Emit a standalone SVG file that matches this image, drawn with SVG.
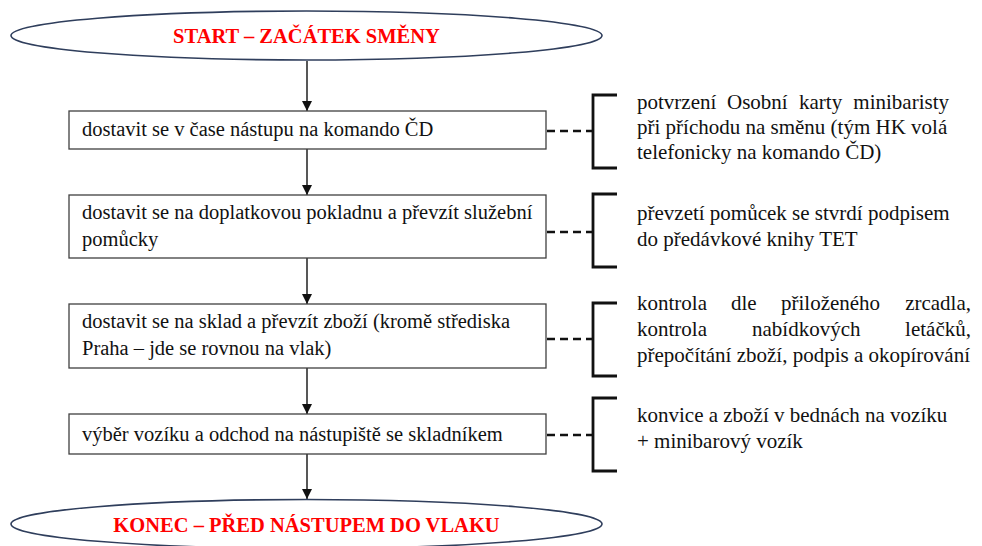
<svg xmlns="http://www.w3.org/2000/svg" width="982" height="546" viewBox="0 0 982 546">
  <style>
    .term { fill: #ffffff; stroke: #2f3e5c; stroke-width: 1.6; }
    .term-text { font-family: "Liberation Serif", "Times New Roman", Tinos, serif; font-size: 20.5px; font-weight: bold; fill: #ff0000; text-anchor: middle; }
    .step { fill: #ffffff; stroke: #404040; stroke-width: 1.3; }
    .step-text { font-family: "Liberation Serif", "Times New Roman", Tinos, serif; font-size: 20.5px; fill: #111111; }
    .note-text { font-family: "Liberation Serif", "Times New Roman", Tinos, serif; font-size: 21px; fill: #111111; }
    .end { text-anchor: end; }
    .flow { stroke: #111111; stroke-width: 1.4; fill: none; marker-end: url(#arrow); }
    .dash { stroke: #111111; stroke-width: 2.6; stroke-dasharray: 8 5; fill: none; }
    .bracket { stroke: #111111; stroke-width: 2.8; fill: none; }
  </style>
  <defs>
    <marker id="arrow" viewBox="0 0 10 10" refX="10" refY="5" markerWidth="10" markerHeight="10" markerUnits="userSpaceOnUse" orient="auto">
      <path d="M0,0 L10,5 L0,10 Z" fill="#111111"/>
    </marker>
  </defs>

  <!-- connectors -->
  <g id="connectors">
    <line class="flow" x1="307" y1="61" x2="307" y2="111"/>
    <line class="flow" x1="307" y1="149" x2="307" y2="195"/>
    <line class="flow" x1="307" y1="258" x2="307" y2="304"/>
    <line class="flow" x1="307" y1="368" x2="307" y2="414"/>
    <line class="flow" x1="307" y1="454" x2="307" y2="499"/>
    <line class="dash" x1="547" y1="131" x2="593" y2="131"/>
    <line class="dash" x1="547" y1="232" x2="593" y2="232"/>
    <line class="dash" x1="547" y1="339" x2="593" y2="339"/>
    <line class="dash" x1="547" y1="435" x2="593" y2="435"/>
  </g>

  <!-- start terminal -->
  <g id="start">
    <ellipse class="term" cx="306.5" cy="35.5" rx="295.5" ry="24.5"/>
    <text class="term-text" x="306.5" y="43">START – ZAČÁTEK SMĚNY</text>
  </g>

  <!-- process steps -->
  <g id="step1">
    <rect class="step" x="69" y="111" width="477" height="38"/>
    <text class="step-text" x="82" y="136">dostavit se v čase nástupu na komando ČD</text>
  </g>
  <g id="step2">
    <rect class="step" x="69" y="195" width="477" height="63"/>
    <text class="step-text" x="82" y="219">dostavit se na doplatkovou pokladnu a převzít služební</text>
    <text class="step-text" x="82" y="246">pomůcky</text>
  </g>
  <g id="step3">
    <rect class="step" x="69" y="304" width="477" height="64"/>
    <text class="step-text" x="82" y="328">dostavit se na sklad a převzít zboží (kromě střediska</text>
    <text class="step-text" x="82" y="355">Praha – jde se rovnou na vlak)</text>
  </g>
  <g id="step4">
    <rect class="step" x="69" y="414" width="477" height="40"/>
    <text class="step-text" x="82" y="441">výběr vozíku a odchod na nástupiště se skladníkem</text>
  </g>

  <!-- notes with brackets (justified lines are set word by word) -->
  <g id="note1">
    <path class="bracket" d="M617,95 H593 V168 H617"/>
    <text class="note-text" y="109"><tspan x="637">potvrzení</tspan><tspan x="727">Osobní</tspan><tspan x="799">karty</tspan></text>
    <text class="note-text end" x="949" y="109">minibaristy</text>
    <text class="note-text" x="637" y="134">při příchodu na směnu (tým HK volá</text>
    <text class="note-text" x="637" y="159">telefonicky na komando ČD)</text>
  </g>
  <g id="note2">
    <path class="bracket" d="M617,194 H593 V267 H617"/>
    <text class="note-text" x="637" y="220">převzetí pomůcek se stvrdí podpisem</text>
    <text class="note-text" x="637" y="246">do předávkové knihy TET</text>
  </g>
  <g id="note3">
    <path class="bracket" d="M617,303 H593 V376 H617"/>
    <text class="note-text" y="310"><tspan x="637">kontrola</tspan><tspan x="731">dle</tspan><tspan x="781">přiloženého</tspan></text>
    <text class="note-text end" x="971" y="310">zrcadla,</text>
    <text class="note-text" y="336"><tspan x="637">kontrola</tspan><tspan x="752">nabídkových</tspan></text>
    <text class="note-text end" x="971" y="336">letáčků,</text>
    <text class="note-text" x="637" y="362">přepočítání zboží, podpis a okopírování</text>
  </g>
  <g id="note4">
    <path class="bracket" d="M617,398 H593 V471 H617"/>
    <text class="note-text" x="637" y="422">konvice a zboží v bednách na vozíku</text>
    <text class="note-text" x="637" y="448">+ minibarový vozík</text>
  </g>

  <!-- end terminal -->
  <g id="end">
    <ellipse class="term" cx="306.5" cy="524" rx="295.5" ry="24.5"/>
    <text class="term-text" x="306.5" y="532">KONEC – PŘED NÁSTUPEM DO VLAKU</text>
  </g>
</svg>
